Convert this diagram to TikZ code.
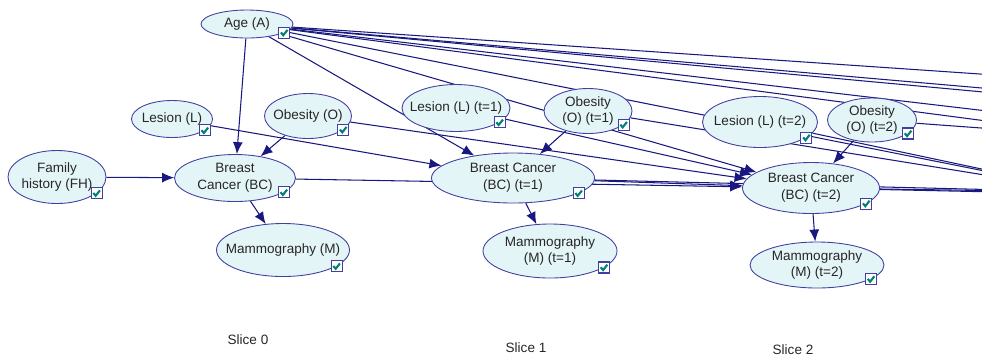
\documentclass[tikz,border=0pt]{standalone}
\usepackage{fontspec}
\setmainfont{Liberation Sans}
\usetikzlibrary{shapes.geometric,arrows.meta,calc,backgrounds}

\definecolor{nodefill}{RGB}{228,245,247}
\definecolor{nodeline}{RGB}{64,64,160}
\definecolor{arcblue}{RGB}{24,24,128}
\definecolor{tickgreen}{RGB}{0,128,118}

% small check box at the lower right of a node
\newcommand{\tickbox}[1]{
	\coordinate (#1-px) at ($(#1.center)!0.8!(#1.east)$);
	\coordinate (#1-py) at ($(#1.center)!0.6!(#1.south)$);
	\pic at (#1-px |- #1-py) {tick};
}

\begin{document}
\begin{tikzpicture}[x=0.02cm,y=-0.02cm,
			var/.style 2 args={ellipse,draw=nodeline,fill=nodefill,line width=0.5pt,
				inner xsep=-3mm,inner ysep=-1mm,align=center,text=black!85,
				minimum width=#1*0.02cm,minimum height=#2*0.02cm,
				font=\fontsize{7.7}{9.6}\selectfont},
			arc/.style={draw=arcblue,line width=0.6pt,-{Latex[length=0.24cm,width=0.2cm]}},
			slice/.style={text=black!85,font=\fontsize{7.7}{9.6}\selectfont},
			pics/tick/.style={code={
				\draw[draw=nodeline,fill=white,line width=0.6pt] (-5.5,-5.5) rectangle (5.5,5.5);
				\draw[tickgreen,line width=1.2pt] (-3.2,-0.2) -- (-0.9,2.6) -- (3.4,-2.8);
			}}]
	\useasboundingbox (0,0) rectangle (982,360);

	% slice 0
	\node (A)  [var={92}{28}]  at (247,24)  {Age (A)};
	\node (FH) [var={98}{53}]  at (57,177)  {Family\\history (FH)};
	\node (L0) [var={81}{37}]  at (172,119) {Lesion (L)};
	\node (O0) [var={87}{45}]  at (308,116) {Obesity (O)};
	\node (BC0) [var={121}{47}] at (235,178) {Breast\\Cancer (BC)};
	\node (M0) [var={133}{53}] at (283,250) {Mammography (M)};

	% slice 1
	\node (L1) [var={108}{47}] at (456,108) {Lesion (L) (t=1)};
	\node (O1) [var={88}{45}]  at (588,111) {Obesity\\(O) (t=1)};
	\node (BC1) [var={163}{50}] at (513,178) {Breast Cancer\\(BC) (t=1)};
	\node (M1) [var={134}{54}] at (550,251) {Mammography\\(M) (t=1)};

	% slice 2
	\node (L2) [var={115}{51}] at (760,122) {Lesion (L) (t=2)};
	\node (O2) [var={89}{44}]  at (872,120) {Obesity\\(O) (t=2)};
	\node (BC2) [var={137}{51}] at (811,188) {Breast Cancer\\(BC) (t=2)};
	\node (M2) [var={134}{46}] at (817,265) {Mammography\\(M) (t=2)};

	% later slices, off the page
	\coordinate (BC3) at (1090,192);
	\coordinate (BC4) at (1370,200);
	\coordinate (far1) at (1200,89);
	\coordinate (far2) at (1200,107);
	\coordinate (far3) at (1200,112);
	\coordinate (far4) at (1200,136);
	\coordinate (far5) at (1200,149);
	\coordinate (far6) at (1200,144);

	\node (s0) [slice] at (248,340) {Slice 0};
	\node (s1) [slice] at (526,348) {Slice 1};
	\node (s2) [slice] at (793,350) {Slice 2};

	\foreach \n in {A,FH,L0,O0,BC0,M0,L1,O1,BC1,M1,L2,O2,BC2,M2}
		{\tickbox{\n}}

	\begin{pgfonlayer}{background}
		\foreach \t in {BC0,BC1,BC2,BC3,far1,far2,far3,far4,far5}
			\draw[arc] (A) -- (\t);
		\draw[arc] (FH) -- (BC0);
		\draw[arc] (O0) -- (BC0);
		\draw[arc] (O1) -- (BC1);
		\draw[arc] (O2) -- (BC2);
		\draw[arc] (BC0) -- (M0);
		\draw[arc] (BC1) -- (M1);
		\draw[arc] (BC2) -- (M2);
		\draw[arc] (L0) -- (BC1);
		\draw[arc] (L1) -- (BC2);
		\draw[arc] (L2) -- (BC3);
		\draw[arc] (O0) -- (BC2);
		\draw[arc] (O1) -- (BC3);
		\draw[arc] (O2) -- (far6);
		\draw[arc] (BC0) -- (BC2);
		\draw[arc] (BC1) -- (BC2);
		\draw[arc] (BC1) -- (BC3);
		\draw[arc] (BC2) -- (BC3);
		\draw[arc] (BC2) -- (BC4);
	\end{pgfonlayer}
\end{tikzpicture}
\end{document}
